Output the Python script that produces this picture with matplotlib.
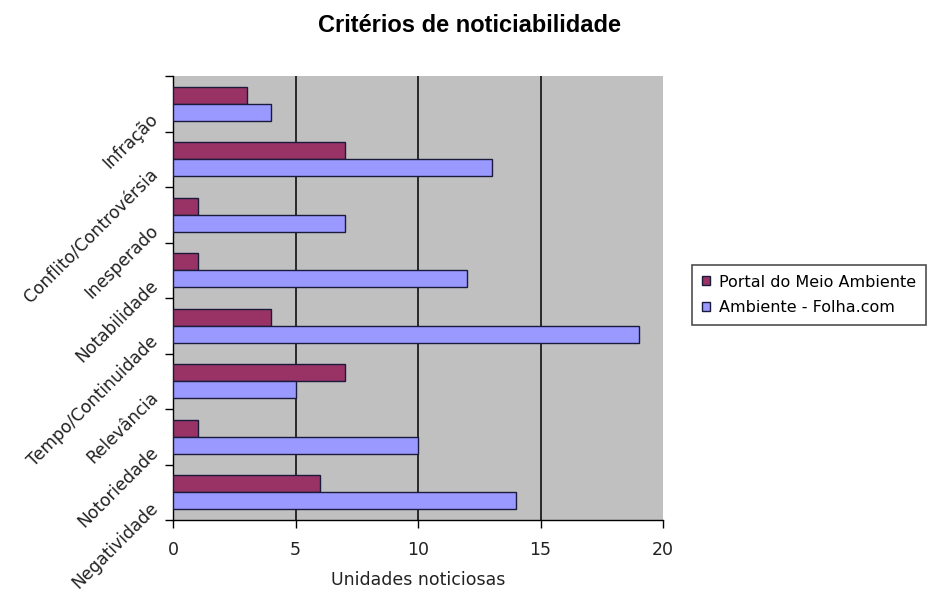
import matplotlib
matplotlib.use("Agg")
import matplotlib.pyplot as plt
import numpy as np
from matplotlib.patches import Patch

categories = ["Negatividade", "Notoriedade", "Relevância", "Tempo/Continuidade",
              "Notabilidade", "Inesperado", "Conflito/Controvérsia", "Infração"]
portal = [6, 1, 7, 4, 1, 1, 7, 3]
folha = [14, 10, 5, 19, 12, 7, 13, 4]
series_names = ["Portal do Meio Ambiente", "Ambiente - Folha.com"]
xticks = [0, 5, 10, 15, 20]

plt.rcParams['font.family'] = ['DejaVu Sans']

fig = plt.figure(figsize=(9.31, 5.91), dpi=100)
ax = fig.add_axes([173/931, 1-520/591, (663-173)/931, (520-76)/591])
ax.set_facecolor('#C0C0C0')

y = np.arange(len(categories))
h = 0.306
ax.barh(y + h/2, portal, height=h, color='#993366', edgecolor='#1a1a3a', linewidth=1.0, zorder=3)
ax.barh(y - h/2, folha, height=h, color='#9999FF', edgecolor='#1a1a3a', linewidth=1.0, zorder=3)

ax.set_xlim(0, 20)
ax.set_ylim(-0.5, len(categories) - 0.5)
ax.set_xticks(xticks)
ax.set_xticklabels([str(v) for v in xticks], fontsize=12.5)
for v in xticks[1:-1]:
    ax.axvline(v, color='black', linewidth=1.1, zorder=1)

ax.set_yticks(y - 0.12)
ax.set_yticklabels(categories, fontsize=12.3, rotation=45, ha='right', va='top',
                   color='#222222')
ax.tick_params(axis='y', which='major', length=0, pad=8)
ax.set_yticks(np.arange(-0.5, len(categories), 1.0), minor=True)
ax.tick_params(axis='y', which='minor', length=6, direction='out', width=1)
ax.tick_params(axis='x', length=6, direction='out', width=1, pad=9, labelcolor='#222222')

for s in ['top', 'right']:
    ax.spines[s].set_visible(False)
ax.spines['left'].set_linewidth(1.0)
ax.spines['bottom'].set_linewidth(1.0)

ax.set_xlabel("Unidades noticiosas", fontsize=12.5, labelpad=9, color='#222222')
fig.text(470/931, 1-26/591, "Critérios de noticiabilidade", ha='center', va='center',
         fontsize=17, fontweight='bold', family='Liberation Sans')

handles = [Patch(facecolor='#993366', edgecolor='#1a1a3a'),
           Patch(facecolor='#9999FF', edgecolor='#1a1a3a')]
leg = fig.legend(handles, series_names, loc='upper left',
                 bbox_to_anchor=(692/931, 1-265/591), borderaxespad=0,
                 fontsize=11.5, frameon=True, fancybox=False, edgecolor='#222222',
                 handlelength=0.5, handleheight=0.5, handletextpad=0.6,
                 borderpad=0.6, labelspacing=0.65)
leg.get_frame().set_linewidth(1.2)

fig.savefig("out.png", dpi=100)
